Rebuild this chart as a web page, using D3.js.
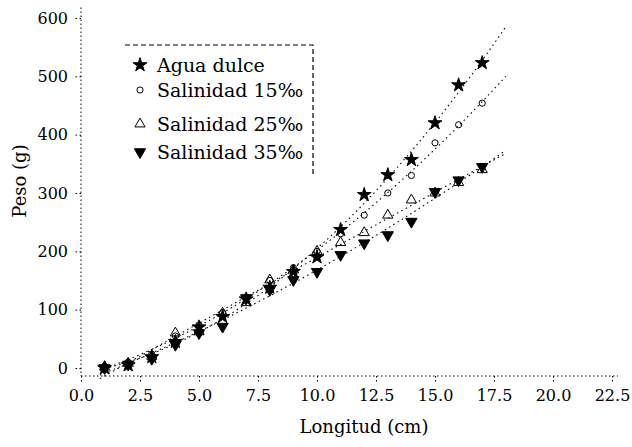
<!DOCTYPE html>
<html>
<head>
<meta charset="utf-8">
<script src="https://cdn.jsdelivr.net/npm/d3@7"></script>
<style>
  body { margin: 0; background: #fff; }
  text { font-family: "DejaVu Serif", serif; fill: #000; }
</style>
</head>
<body>
<svg id="chart" width="632" height="447"></svg>
<script>
// longitudes (cm)
var longitud = [1, 2, 3, 4, 5, 6, 7, 8, 9, 10, 11, 12, 13, 14, 15, 16, 17];

// peso (g) por serie
var aguaDulce = [0, 5, 19, 45, 70, 88, 118, 138, 165, 190, 237, 297, 331, 357, 420, 485, 523];
var sal15 = [3, 10, 24, 55, 74, 95, 122, 150, 172, 200, 230, 262, 300, 330, 386, 417, 454];
var sal25 = [2, 8, 20, 60, 62, 94, 112, 151, 168, 200, 215, 232, 262, 288, 300, 318, 340];
var sal35 = [0, 6, 16, 40, 60, 71, 120, 134, 151, 165, 194, 214, 228, 251, 302, 322, 345];

var seriesNames = ["Agua dulce", "Salinidad 15\u2030", "Salinidad 25\u2030", "Salinidad 35\u2030"];
var xTicks = [0, 2.5, 5, 7.5, 10, 12.5, 15, 17.5, 20, 22.5];
var yTicks = [0, 100, 200, 300, 400, 500, 600];

var svg = d3.select("#chart");

var x = d3.scaleLinear().domain([0, 22.5]).range([81, 612]);
var y = d3.scaleLinear().domain([0, 600]).range([368, 18]);
var xAxisY = 376;

var series = [
    {name: seriesNames[0], values: aguaDulce, symbol: d3.symbolStar, size: 60, fill: "#000", rot: 0},
    {name: seriesNames[1], values: sal15, symbol: d3.symbolCircle, size: 30, fill: "none", rot: 0},
    {name: seriesNames[2], values: sal25, symbol: d3.symbolTriangle, size: 45, fill: "none", rot: 0},
    {name: seriesNames[3], values: sal35, symbol: d3.symbolTriangle, size: 55, fill: "#000", rot: 180}
];

// quadratic least squares fit
function quadFit(xs, ys) {
    var s = [0, 0, 0, 0, 0], t = [0, 0, 0];
    xs.forEach(function (xv, i) {
        var p = 1;
        for (var k = 0; k < 5; k++) { s[k] += p; if (k < 3) t[k] += p * ys[i]; p *= xv; }
    });
    var m = [[s[0], s[1], s[2], t[0]], [s[1], s[2], s[3], t[1]], [s[2], s[3], s[4], t[2]]];
    for (var i = 0; i < 3; i++) {
        for (var j = i + 1; j < 3; j++) {
            var f = m[j][i] / m[i][i];
            for (var k = i; k < 4; k++) m[j][k] -= f * m[i][k];
        }
    }
    var c = [0, 0, 0];
    for (var i = 2; i >= 0; i--) {
        var v = m[i][3];
        for (var k = i + 1; k < 3; k++) v -= m[i][k] * c[k];
        c[i] = v / m[i][i];
    }
    return function (xv) { return c[0] + c[1] * xv + c[2] * xv * xv; };
}

// axes
var xAxis = d3.axisBottom(x).tickValues(xTicks).tickFormat(d3.format(".1f"))
    .tickSize(6).tickSizeOuter(0).tickPadding(8);
var gx = svg.append("g").attr("transform", "translate(0," + xAxisY + ")").call(xAxis);
gx.select(".domain").remove();
gx.append("line").attr("x1", x(0)).attr("x2", x(22.5) + 6).attr("y1", 0).attr("y2", 0);

var yAxis = d3.axisLeft(y).tickValues(yTicks).tickSize(6).tickSizeOuter(0).tickPadding(7);
var gy = svg.append("g").attr("transform", "translate(" + x(0) + ",0)").call(yAxis);
gy.select(".domain").remove();
gy.append("line").attr("x1", 0).attr("x2", 0).attr("y1", y(618)).attr("y2", xAxisY);

svg.selectAll(".tick line, g > line")
    .attr("stroke", "#000").attr("stroke-width", 1).attr("stroke-dasharray", "1.5,2.5");
svg.selectAll(".tick text").style("font-size", "16px").style("font-family", "'DejaVu Serif', serif");

// fit lines
var fitXs = d3.range(0.8, 18.01, 0.2);
series.forEach(function (s) {
    var f = quadFit(longitud, s.values);
    svg.append("path")
        .datum(fitXs)
        .attr("fill", "none")
        .attr("stroke", "#000")
        .attr("stroke-width", 1.1)
        .attr("stroke-dasharray", "1.5,3.5")
        .attr("d", d3.line().x(function (d) { return x(d); }).y(function (d) { return y(f(d)); }));
});

// points
series.forEach(function (s) {
    svg.append("g").selectAll("path")
        .data(s.values)
        .enter().append("path")
        .attr("d", d3.symbol().type(s.symbol).size(s.size))
        .attr("transform", function (d, i) {
            return "translate(" + x(longitud[i]) + "," + y(d) + ") rotate(" + s.rot + ")";
        })
        .attr("fill", s.fill)
        .attr("stroke", "#000")
        .attr("stroke-width", 1);
});

// legend
var leg = svg.append("g");
leg.append("path")
    .attr("d", "M125,45 H313 V174")
    .attr("fill", "none").attr("stroke", "#000").attr("stroke-width", 1.2)
    .attr("stroke-dasharray", "5,3");
var legY = [65, 90, 124, 152];
series.forEach(function (s, i) {
    leg.append("path")
        .attr("d", d3.symbol().type(s.symbol).size(s.size))
        .attr("transform", "translate(140," + legY[i] + ") rotate(" + s.rot + ")")
        .attr("fill", s.fill).attr("stroke", "#000");
    leg.append("text")
        .attr("x", 157).attr("y", legY[i]).attr("dy", "0.35em")
        .style("font-size", "19px")
        .text(s.name);
});

// axis titles
svg.append("text")
    .attr("x", 364).attr("y", 433)
    .attr("text-anchor", "middle")
    .style("font-size", "18px")
    .text("Longitud (cm)");

svg.append("text")
    .attr("transform", "translate(26,181) rotate(-90)")
    .attr("text-anchor", "middle")
    .style("font-size", "18px")
    .text("Peso (g)");
</script>
</body>
</html>
